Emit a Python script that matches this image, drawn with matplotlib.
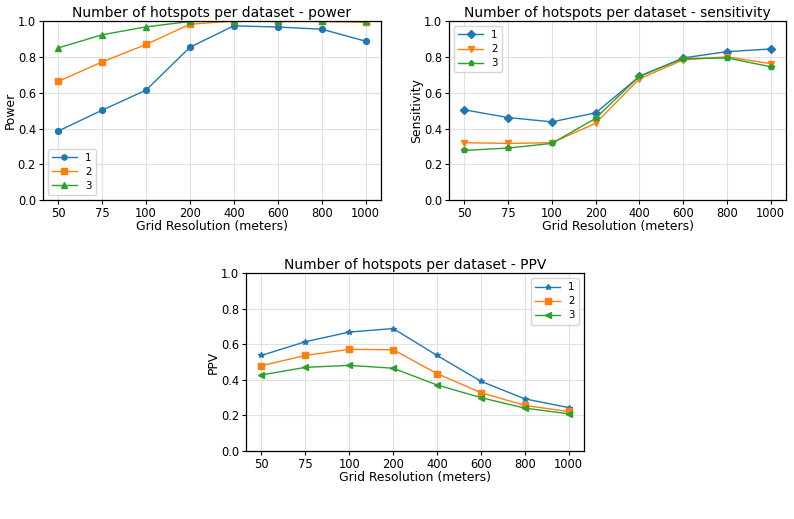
import matplotlib
matplotlib.use('Agg')
import matplotlib.pyplot as plt
import numpy as np

# 데이터
resolutions = ['50', '75', '100', '200', '400', '600', '800', '1000']
labels = ['1', '2', '3']

power_1 = [0.386, 0.502, 0.614, 0.853, 0.972, 0.965, 0.953, 0.886]
power_2 = [0.662, 0.771, 0.868, 0.981, 0.998, 0.996, 0.996, 0.991]
power_3 = [0.849, 0.922, 0.966, 0.996, 0.998, 0.998, 1.000, 0.996]

sens_1 = [0.504, 0.461, 0.437, 0.487, 0.690, 0.793, 0.828, 0.843]
sens_2 = [0.321, 0.317, 0.321, 0.429, 0.677, 0.782, 0.799, 0.761]
sens_3 = [0.278, 0.291, 0.317, 0.457, 0.692, 0.789, 0.793, 0.744]

ppv_1 = [0.537, 0.614, 0.668, 0.688, 0.537, 0.392, 0.293, 0.244]
ppv_2 = [0.479, 0.537, 0.571, 0.569, 0.435, 0.328, 0.256, 0.222]
ppv_3 = [0.427, 0.470, 0.481, 0.465, 0.371, 0.300, 0.241, 0.209]

plt.rcParams['xtick.labelsize'] = 8.3
plt.rcParams['ytick.labelsize'] = 8.3
plt.rcParams['axes.labelsize'] = 8.9
plt.rcParams['axes.titlesize'] = 10
plt.rcParams['legend.fontsize'] = 7.4
plt.rcParams['axes.linewidth'] = 0.9

fig = plt.figure(figsize=(7.94, 5.19), dpi=100)

ax1 = fig.add_axes([0.054, 0.614, 0.426, 0.346])
ax2 = fig.add_axes([0.5655, 0.614, 0.4245, 0.346])
ax3 = fig.add_axes([0.310, 0.131, 0.4255, 0.343])

x = np.arange(len(resolutions))


def draw(ax, series, markers, title, ylabel, loc):
    for vals, m, lab in zip(series, markers, labels):
        ax.plot(x, vals, marker=m, markersize=4.2, linewidth=1, label=lab)
    ax.set_title('Number of hotspots per dataset - ' + title, pad=3)
    ax.set_ylabel(ylabel)
    ax.yaxis.set_label_coords(-0.078, 0.5)
    ax.set_xlabel('Grid Resolution (meters)', labelpad=0)
    ax.set_xticks(x)
    ax.set_xticklabels(resolutions)
    ax.set_ylim(0, 1)
    ax.tick_params(length=3, pad=2)
    ax.grid(True, color='#e0e0e0', linewidth=0.8)
    ax.set_axisbelow(True)
    ax.legend(loc=loc, markerscale=0.9, handlelength=2.4, labelspacing=0.4)


draw(ax1, [power_1, power_2, power_3], ['o', 's', '^'], 'power', 'Power', 'lower left')
draw(ax2, [sens_1, sens_2, sens_3], ['D', 'v', 'p'], 'sensitivity', 'Sensitivity', 'upper left')
draw(ax3, [ppv_1, ppv_2, ppv_3], ['*', 's', '<'], 'PPV', 'PPV', 'upper right')

fig.savefig('out.png', dpi=100)
